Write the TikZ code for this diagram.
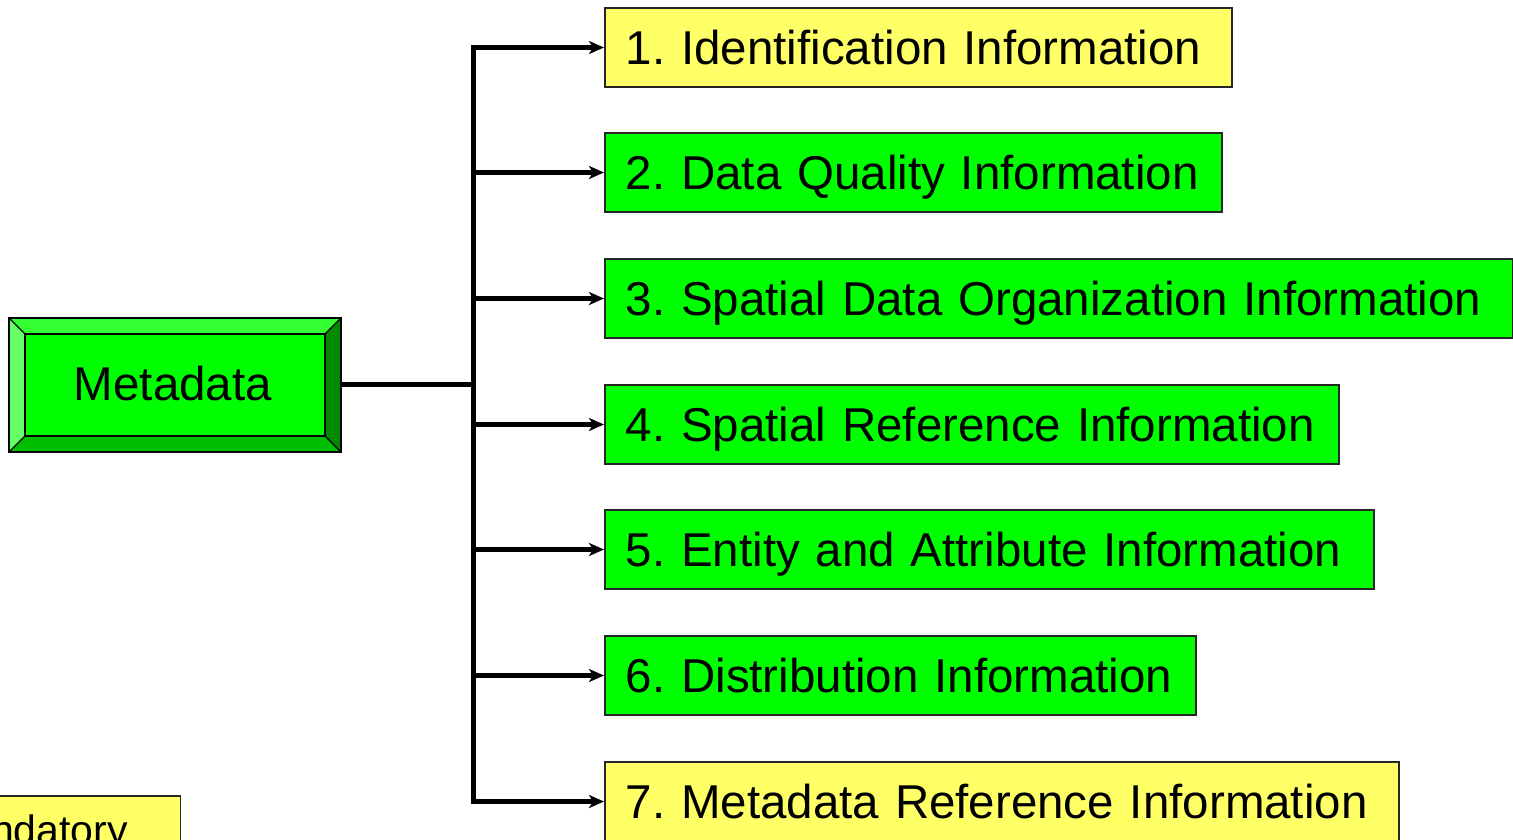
\documentclass[tikz,border=0pt]{standalone}
\usepackage{fontspec}
\setmainfont{Liberation Sans}
\usetikzlibrary{arrows.meta}
\frenchspacing

\definecolor{boxyellow}{RGB}{255,255,102}
\definecolor{boxgreen}{RGB}{0,255,0}
\definecolor{bevtop}{RGB}{51,255,51}
\definecolor{bevleft}{RGB}{102,255,102}
\definecolor{bevright}{RGB}{0,136,0}
\definecolor{bevbottom}{RGB}{0,190,0}

\tikzset{
  infobox/.style={draw=black!85, line width=1.5pt, anchor=west,
    minimum height=79pt, inner xsep=21pt, inner ysep=0pt,
    text width=#1, align=left, text height=40pt, text depth=6pt,
    font=\fontsize{47.5}{56}\selectfont},
  trunk/.style={line width=5pt},
  branch/.style={line width=5pt,
    -{Stealth[length=15pt,width=13pt,inset=4pt]}},
}

\begin{document}
\begin{tikzpicture}[x=1pt,y=-1pt]
\useasboundingbox (0,0) rectangle (1513,839);
\clip (0,0) rectangle (1513,839);

% bevelled root box
\fill[bevtop]    (9,318) -- (341,318) -- (325,334) -- (25,334) -- cycle;
\fill[bevleft]   (9,318) -- (25,334) -- (25,436) -- (9,452) -- cycle;
\fill[bevright]  (341,318) -- (341,452) -- (325,436) -- (325,334) -- cycle;
\fill[bevbottom] (9,452) -- (341,452) -- (325,436) -- (25,436) -- cycle;
\draw[line width=1.5pt, fill=boxgreen] (25,334) rectangle (325,436);
\draw[line width=1.2pt] (9,318) -- (25,334) (341,318) -- (325,334)
  (9,452) -- (25,436) (341,452) -- (325,436);
\draw[line width=1.5pt] (9,318) rectangle (341,452);
\node[font=\fontsize{47.5}{56}\selectfont, text height=40pt, text depth=6pt,
  inner sep=0pt] (meta) at (173,383) {Metadata};
\coordinate (metaE) at (341,384);

% sections
\node[infobox=585pt, fill=boxyellow] (b1) at (604,47.5) {1. Identification Information};
\node[infobox=575pt, fill=boxgreen]  (b2) at (604,172.5) {2. Data Quality Information};
\node[infobox=866pt, fill=boxgreen]  (b3) at (604,298.5) {3. Spatial Data Organization Information};
\node[infobox=692pt, fill=boxgreen]  (b4) at (604,424.5) {4. Spatial Reference Information};
\node[infobox=727pt, fill=boxgreen]  (b5) at (604,549.5) {5. Entity and Attribute Information};
\node[infobox=549pt, fill=boxgreen]  (b6) at (604,675.5) {6. Distribution Information};
\node[infobox=752pt, fill=boxyellow] (b7) at (604,801.5) {7. Metadata Reference Information};

% legend box
\node[draw=black!85, line width=1.5pt, fill=boxyellow, anchor=north east,
  minimum height=79pt, inner xsep=21pt, inner ysep=0pt, text width=225pt,
  align=left, text height=31pt, text depth=12pt,
  font=\fontsize{41}{48}\selectfont] (legend) at (181,795) {Mandatory};

% connectors
\coordinate (split) at (473,384);
\coordinate (top) at (473,47.5);
\coordinate (bottom) at (473,801.5);
\draw[trunk] (metaE) -- (split);
\draw[trunk, line cap=rect] (top) -- (bottom);
\foreach \b in {b1,b2,b3,b4,b5,b6,b7}
  \draw[branch] (split) |- (\b.west);
\end{tikzpicture}
\end{document}
